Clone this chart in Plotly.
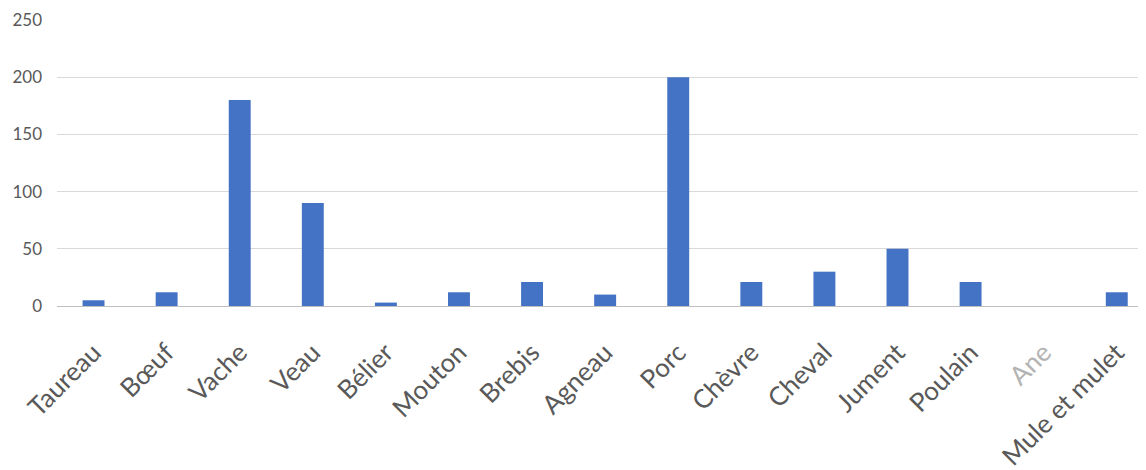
import plotly.graph_objects as go

animaux = ["Taureau", "Bœuf", "Vache", "Veau", "Bélier", "Mouton", "Brebis", "Agneau",
           "Porc", "Chèvre", "Cheval", "Jument", "Poulain", "Ane", "Mule et mulet"]
nombres = [5, 12, 180, 90, 3, 12, 21, 10, 200, 21, 30, 50, 21, 0, 12]
y_ticks = [0, 50, 100, 150, 200, 250]

# "Ane" is drawn faded in the original
labels = [f"<span style='color:#b3b3b3'>{a}</span>" if a == "Ane" else a for a in animaux]

fig = go.Figure(go.Bar(x=animaux, y=nombres, marker_color="#4472C4", marker_line_width=0))

# the page body adds 8px, so margins are shifted accordingly
fig.update_layout(
    width=1146, height=470,
    margin=dict(l=49, r=8, t=12, b=172),
    plot_bgcolor="white", paper_bgcolor="white",
    bargap=0.7,
    showlegend=False,
    font=dict(family="Lato, Open Sans, sans-serif", color="#595959"),
)
fig.update_xaxes(tickvals=animaux, ticktext=labels, tickangle=-45, range=[-0.5, 14.4],
                 tickfont=dict(size=26), showline=True, linecolor="#bfbfbf",
                 linewidth=1, ticks="", showgrid=False, automargin=False,
                 ticklabelstandoff=20)
fig.update_yaxes(range=[0, 250], tickvals=y_ticks, tickfont=dict(size=17),
                 gridcolor="#d9d9d9", zeroline=False, ticks="", ticklabelstandoff=14,
                 automargin=False)

fig.write_html("out.html")
